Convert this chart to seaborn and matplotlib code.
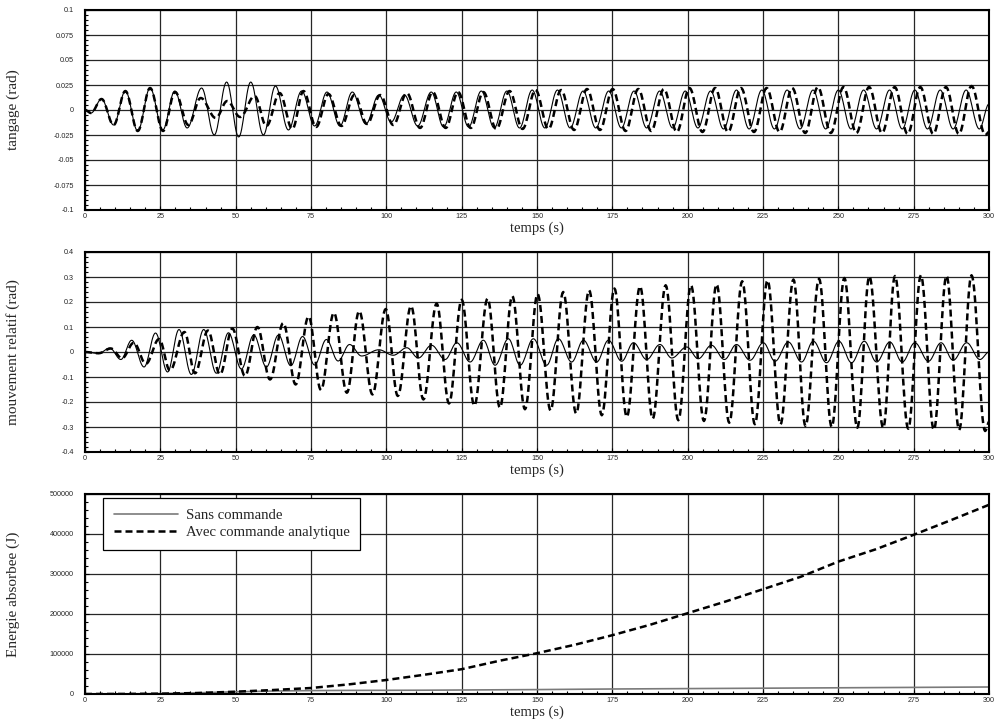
import numpy as np
import pandas as pd
import matplotlib
matplotlib.use("Agg")
import matplotlib.pyplot as plt
import seaborn as sns
from matplotlib.ticker import MultipleLocator, FixedLocator

# ---------------------------------------------------------------------------
# Data: successive extrema (time in s, value) of each simulated response
# ---------------------------------------------------------------------------
# Pitch angle (tangage), without control
t_tang_sans = [0, 2.0, 5.5, 9.5, 13.4, 17.5, 21.6, 25.8, 29.8, 33.9,
               38.7, 42.9, 47.0, 51.0, 55.0, 59.2, 63.2, 67.5, 71.9, 76.2,
               80.3, 84.6, 88.7, 93.2, 97.5, 101.6, 106.0, 110.4, 114.9, 119.0,
               123.2, 127.3, 131.5, 135.8, 140.0, 144.2, 148.4, 152.6, 156.8, 161.0,
               165.3, 169.5, 173.8, 178.0, 182.2, 186.4, 190.7, 195.0, 199.2, 203.4,
               207.6, 211.9, 216.2, 220.4, 224.6, 228.8, 233.0, 237.3, 241.6, 245.8,
               250.0, 254.2, 258.4, 262.7, 267.0, 271.2, 275.4, 279.6, 283.8, 288.1,
               292.4, 296.8, 300.0]
v_tang_sans = [0, -0.003, 0.011, -0.015, 0.019, -0.021, 0.022, -0.020, 0.019, -0.018,
               0.022, -0.025, 0.028, -0.027, 0.028, -0.025, 0.024, -0.020, 0.019, -0.016,
               0.018, -0.016, 0.018, -0.014, 0.015, -0.012, 0.015, -0.016, 0.018, -0.017,
               0.018, -0.017, 0.019, -0.018, 0.019, -0.018, 0.020, -0.018, 0.020, -0.018,
               0.019, -0.018, 0.019, -0.018, 0.019, -0.018, 0.019, -0.018, 0.019, -0.018,
               0.019, -0.019, 0.020, -0.019, 0.020, -0.019, 0.020, -0.019, 0.020, -0.019,
               0.020, -0.019, 0.020, -0.019, 0.020, -0.019, 0.020, -0.019, 0.020, -0.019,
               0.020, -0.019, 0.006]

# Pitch angle (tangage), with analytic control
t_tang_avec = [0, 2.0, 5.5, 9.5, 13.4, 17.5, 21.6, 25.9, 29.9, 34.3,
               38.4, 43.4, 47.2, 51.5, 56.3, 60.2, 64.6, 68.8, 72.5, 76.7,
               80.8, 85.1, 89.4, 93.6, 98.0, 102.3, 106.8, 111.2, 115.4, 119.7,
               123.8, 128.0, 132.2, 136.5, 140.9, 145.2, 149.5, 153.8, 158.0, 162.3,
               166.6, 170.9, 175.1, 179.4, 183.6, 187.9, 192.1, 196.4, 200.6, 204.9,
               209.1, 213.4, 217.7, 222.0, 226.2, 230.5, 234.7, 239.0, 243.2, 247.5,
               251.7, 256.0, 260.2, 264.5, 268.7, 273.0, 277.2, 281.5, 285.7, 290.0,
               294.2, 298.8, 300.0]
v_tang_avec = [0, -0.003, 0.011, -0.015, 0.019, -0.021, 0.022, -0.021, 0.018, -0.015,
               0.012, -0.008, 0.009, -0.007, 0.014, -0.016, 0.017, -0.019, 0.019, -0.017,
               0.016, -0.016, 0.015, -0.014, 0.015, -0.015, 0.017, -0.018, 0.018, -0.018,
               0.018, -0.018, 0.018, -0.019, 0.019, -0.019, 0.020, -0.019, 0.020, -0.020,
               0.021, -0.020, 0.021, -0.021, 0.021, -0.021, 0.021, -0.022, 0.022, -0.022,
               0.022, -0.022, 0.022, -0.022, 0.022, -0.022, 0.022, -0.023, 0.023, -0.023,
               0.023, -0.023, 0.023, -0.023, 0.023, -0.024, 0.023, -0.024, 0.023, -0.024,
               0.024, -0.025, -0.022]

# Relative motion (mouvement relatif), without control
t_mouv_sans = [0, 4.5, 8.2, 11.9, 15.5, 19.6, 23.4, 27.4, 31.2, 35.3,
               39.4, 43.6, 47.6, 51.9, 56.0, 60.2, 64.2, 68.3, 72.2, 76.2,
               80.1, 84.0, 87.8, 91.8, 97.5, 102.3, 106.8, 110.6, 115.0, 119.5,
               123.4, 127.8, 132.2, 136.1, 140.5, 144.4, 148.8, 153.2, 157.1, 161.5,
               165.4, 169.8, 173.7, 178.1, 182.0, 186.4, 190.8, 194.7, 199.7, 203.5,
               207.9, 212.2, 216.2, 220.7, 225.1, 229.0, 233.4, 237.8, 241.7, 246.1,
               250.2, 254.4, 258.6, 262.7, 267.1, 271.2, 275.4, 279.9, 284.1, 288.1,
               292.6, 297.0, 300.0]
v_mouv_sans = [0, -0.006, 0.016, -0.030, 0.047, -0.060, 0.076, -0.080, 0.090, -0.090,
               0.090, -0.085, 0.077, -0.068, 0.068, -0.060, 0.068, -0.055, 0.062, -0.052,
               0.050, -0.036, 0.030, -0.016, 0.009, -0.013, 0.017, -0.024, 0.027, -0.030,
               0.037, -0.040, 0.047, -0.053, 0.053, -0.053, 0.053, -0.053, 0.053, -0.040,
               0.047, -0.040, 0.047, -0.037, 0.037, -0.030, 0.030, -0.024, 0.020, -0.027,
               0.027, -0.030, 0.030, -0.033, 0.037, -0.037, 0.040, -0.040, 0.043, -0.043,
               0.043, -0.043, 0.043, -0.040, 0.040, -0.040, 0.037, -0.037, 0.037, -0.033,
               0.037, -0.030, 0.0]

# Relative motion (mouvement relatif), with analytic control
t_mouv_avec = [0, 4.5, 8.6, 12.3, 16.2, 20.2, 24.6, 28.2, 33.0, 36.5,
               40.8, 44.8, 48.9, 53.1, 57.2, 61.4, 65.8, 69.9, 74.2, 78.3,
               82.6, 86.9, 91.0, 95.4, 99.8, 103.8, 108.2, 112.3, 116.7, 120.8,
               125.0, 129.2, 133.6, 137.7, 141.8, 146.0, 150.2, 154.5, 158.7, 163.0,
               167.3, 171.5, 175.7, 179.8, 184.2, 188.4, 192.7, 196.9, 201.1, 205.4,
               209.6, 213.8, 218.1, 222.3, 226.5, 230.8, 235.1, 239.1, 243.6, 247.8,
               252.0, 256.3, 260.3, 264.9, 268.8, 273.2, 277.4, 281.7, 285.9, 290.1,
               294.2, 298.7, 300.0]
v_mouv_avec = [0, -0.005, 0.014, -0.025, 0.037, -0.047, 0.052, -0.074, 0.080, -0.085,
               0.086, -0.090, 0.094, -0.096, 0.100, -0.110, 0.116, -0.130, 0.142, -0.152,
               0.157, -0.163, 0.164, -0.170, 0.172, -0.176, 0.184, -0.190, 0.194, -0.206,
               0.209, -0.215, 0.214, -0.223, 0.224, -0.229, 0.232, -0.234, 0.240, -0.246,
               0.247, -0.253, 0.254, -0.260, 0.263, -0.267, 0.267, -0.273, 0.267, -0.276,
               0.271, -0.283, 0.283, -0.289, 0.287, -0.290, 0.290, -0.296, 0.293, -0.300,
               0.296, -0.303, 0.303, -0.304, 0.304, -0.307, 0.307, -0.312, 0.305, -0.312,
               0.307, -0.316, -0.280]

# Absorbed energy (J)
t_energie = [0, 12.5, 25, 37.5, 50, 62.5, 75, 87.5, 100, 112.5, 125, 137.5, 150,
             162.5, 175, 187.5, 200, 212.5, 225, 237.5, 250, 262.5, 275, 287.5, 300]
e_sans = [0, 200, 1000, 3000, 5500, 7500, 8500, 9000, 9200, 9500, 10000, 10500, 11000,
          11800, 12500, 13000, 13500, 14000, 14500, 15000, 15500, 16000, 16500, 17000, 17500]
e_avec = [0, 200, 800, 2500, 5800, 10000, 15000, 24000, 35000, 48000, 62000, 83000, 102000,
          123000, 147000, 173000, 202000, 231000, 262000, 293000, 331000, 362000, 398000,
          435000, 473000]

# Axis ticks and labels
x_ticks = [0, 25, 50, 75, 100, 125, 150, 175, 200, 225, 250, 275, 300]
tang_ticks = [-0.1, -0.075, -0.05, -0.025, 0, 0.025, 0.05, 0.075, 0.1]
tang_labels = ["-0.1", "-0.075", "-0.05", "-0.025", "0", "0.025", "0.05", "0.075", "0.1"]
mouv_ticks = [-0.4, -0.3, -0.2, -0.1, 0, 0.1, 0.2, 0.3, 0.4]
mouv_labels = ["-0.4", "-0.3", "-0.2", "-0.1", "0", "0.1", "0.2", "0.3", "0.4"]
ener_ticks = [0, 100000, 200000, 300000, 400000, 500000]
ener_labels = ["0", "100000", "200000", "300000", "400000", "500000"]


def smooth_through(t_ext, v_ext, n=16):
    """Smooth half-cosine arcs joining consecutive extrema."""
    t_ext = np.asarray(t_ext, float)
    v_ext = np.asarray(v_ext, float)
    assert len(t_ext) == len(v_ext)
    u = np.linspace(0.0, 1.0, n, endpoint=False)
    w = (1.0 - np.cos(np.pi * u)) / 2.0
    ts, vs = [], []
    for t0, t1, v0, v1 in zip(t_ext[:-1], t_ext[1:], v_ext[:-1], v_ext[1:]):
        ts.append(t0 + (t1 - t0) * u)
        vs.append(v0 + (v1 - v0) * w)
    ts.append([t_ext[-1]])
    vs.append([v_ext[-1]])
    return np.concatenate(ts), np.concatenate(vs)


sns.set_theme(style="white")
plt.rcParams["font.family"] = ["Liberation Serif", "DejaVu Serif"]
plt.rcParams["axes.linewidth"] = 1.5
plt.rcParams["axes.edgecolor"] = "black"

fig = plt.figure(figsize=(9.96, 7.22), dpi=100)
left, width, height = 85 / 996, 904 / 996, 200 / 722
ax_t = fig.add_axes([left, 1 - 210 / 722, width, height])
ax_m = fig.add_axes([left, 1 - 452 / 722, width, height])
ax_e = fig.add_axes([left, 1 - 694 / 722, width, height])

DASH = (0, (2.8, 1.6))
SOLID_LW = 0.8
DASH_LW = 1.8


def draw(ax, t, v, **kw):
    sns.lineplot(x=np.asarray(t, float), y=np.asarray(v, float), ax=ax,
                 estimator=None, sort=False, errorbar=None, **kw)


# Pitch
x, y = smooth_through(t_tang_sans, v_tang_sans)
draw(ax_t, x, y, color="black", linewidth=SOLID_LW)
x, y = smooth_through(t_tang_avec, v_tang_avec)
draw(ax_t, x, y, color="black", linewidth=DASH_LW, linestyle=DASH)

# Relative motion
x, y = smooth_through(t_mouv_sans, v_mouv_sans)
draw(ax_m, x, y, color="black", linewidth=SOLID_LW)
x, y = smooth_through(t_mouv_avec, v_mouv_avec)
draw(ax_m, x, y, color="black", linewidth=DASH_LW, linestyle=DASH)

# Energy
draw(ax_e, t_energie, e_sans, color="#7a7a7a", linewidth=1.2, label="Sans commande")
draw(ax_e, t_energie, e_avec, color="black", linewidth=DASH_LW, linestyle=DASH,
     label="Avec commande analytique")

panels = [
    (ax_t, tang_ticks, tang_labels, (-0.1, 0.1), 0.005, "tangage (rad)"),
    (ax_m, mouv_ticks, mouv_labels, (-0.4, 0.4), 0.02, "mouvement relatif (rad)"),
    (ax_e, ener_ticks, ener_labels, (0, 500000), 20000, "Energie absorbee (J)"),
]
for ax, yt, yl, ylim, yminor, ylabel in panels:
    ax.set_xlim(0, 300)
    ax.set_ylim(*ylim)
    ax.xaxis.set_major_locator(FixedLocator(x_ticks))
    ax.set_xticklabels([str(v) for v in x_ticks])
    ax.xaxis.set_minor_locator(MultipleLocator(5))
    ax.yaxis.set_major_locator(FixedLocator(yt))
    ax.set_yticklabels(yl)
    ax.yaxis.set_minor_locator(MultipleLocator(yminor))
    ax.grid(True, which="major", color="#262626", linewidth=0.9)
    ax.set_axisbelow(True)
    ax.tick_params(axis="both", which="both", direction="in", bottom=True, left=True,
                   top=False, right=False, color="black")
    ax.tick_params(axis="both", which="major", length=3, width=0.8, labelsize=5.2)
    ax.tick_params(axis="both", which="minor", length=2.5, width=0.8)
    ax.tick_params(axis="y", which="major", pad=8)
    ax.tick_params(axis="x", which="major", pad=2.5)
    for lab in ax.get_xticklabels() + ax.get_yticklabels():
        lab.set_fontfamily(["Liberation Sans", "DejaVu Sans"])
    for s in ax.spines.values():
        s.set_visible(True)
        s.set_linewidth(1.5)
        s.set_color("black")
    ax.set_xlabel("temps (s)", fontsize=10.5, labelpad=0.5)
    ax.set_ylabel(ylabel, fontsize=11)
    ax.yaxis.set_label_coords(-0.072, 0.5)

leg = ax_e.legend(loc="upper left", bbox_to_anchor=(0.0199, 0.98), fontsize=10.6,
                  frameon=True, fancybox=False, framealpha=1.0, edgecolor="black",
                  handlelength=4.4, borderpad=0.72, labelspacing=0.28,
                  handletextpad=0.5, borderaxespad=0.0)
leg.get_frame().set_linewidth(0.9)

fig.savefig("out.png", dpi=100)
